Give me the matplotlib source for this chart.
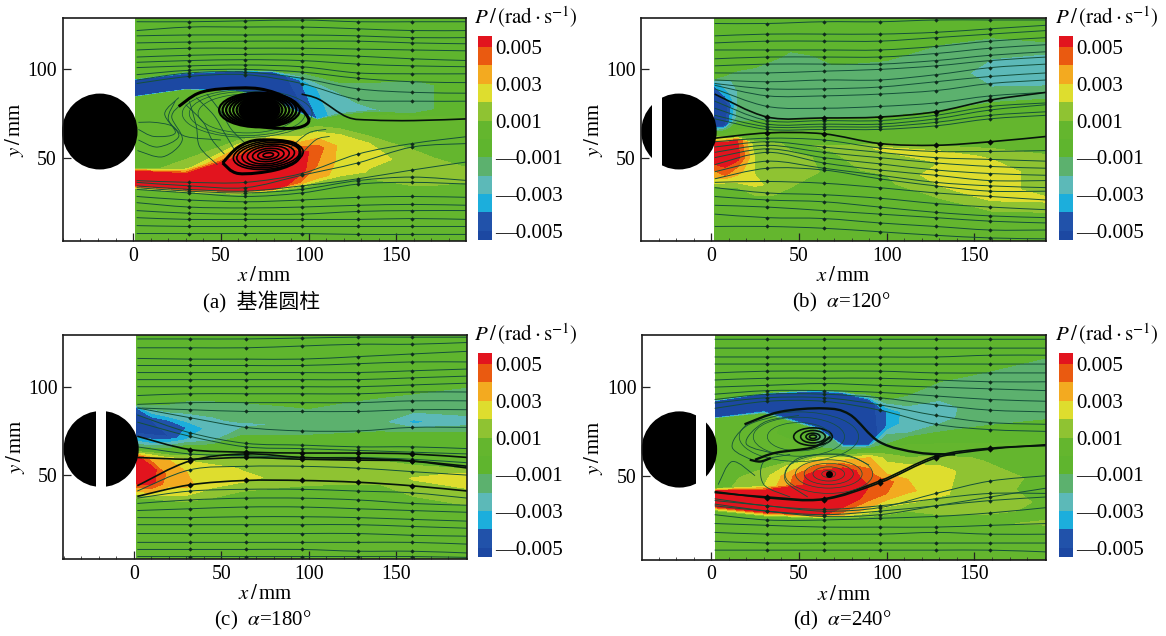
import matplotlib
matplotlib.use("Agg")
import matplotlib.pyplot as plt
from matplotlib.colors import ListedColormap, BoundaryNorm
from matplotlib.cm import ScalarMappable
from matplotlib.patches import Ellipse, Rectangle, PathPatch
from matplotlib.path import Path
from matplotlib.ticker import MultipleLocator
import numpy as np

W, H = 1166, 636
plt.rcParams['font.family'] = ['Liberation Serif', 'Noto Sans CJK SC']
plt.rcParams['mathtext.fontset'] = 'stix'

# colour scale, field values are in units of 0.001 rad/s
cbar_colors = ['#1c48a2', '#2152aa', '#1caedc', '#5cb9b8', '#5cb16e', '#5fb52e',
               '#64b62e', '#8fc332', '#dedd2e', '#f3aa20', '#ea5a10', '#e2141e']
cbar_edges = [-5.5, -5, -4, -3, -2, -1, 0, 1, 2, 3, 4, 5, 5.6]
field_edges = [-20, -5, -4, -3, -2, -1, 0, 1, 2, 3, 4, 5, 20]
cbar_ticks = [-5, -3, -1, 1, 3, 5]
cbar_labels = ['—0.005', '—0.003', '—0.001', '0.001', '0.003', '0.005']

# panel (a) field: rows run bottom to top across the x stations
a_x = [1.5, 30, 60, 80, 95, 105, 118, 135, 160, 191]
a_y = [[2, 2, 2, 2, 2, 2, 2, 2, 2, 2],
       [25, 24, 24, 24, 25, 27, 28, 29, 29, 29],
       [32, 30, 29, 31, 33, 35, 37, 38, 36, 32],
       [34.5, 32.6, 31.7, 32.5, 36, 39, 41, 42, 40, 36],
       [38, 37, 36, 38, 42, 46, 48, 50, 48, 44],
       [42, 40, 41, 46, 52, 55, 57, 58, 52, 46],
       [44, 44, 50, 56, 60, 63, 63, 62, 58, 52],
       [46, 50, 60, 64, 66, 68, 68, 68, 66, 62],
       [84, 88, 87, 82, 74, 71, 73, 75, 73, 72],
       [85, 89, 88, 84, 76, 72, 75, 77, 75, 73],
       [94, 97, 98.7, 98, 94, 89, 83, 80, 78, 76],
       [95, 99, 100, 99.5, 97, 94, 90, 90, 92, 90],
       [96, 100, 102, 102, 100, 98, 95, 95, 97, 97],
       [131, 131, 131, 131, 131, 131, 131, 131, 131, 131]]
a_v = [[0.5, 0.5, 0.5, 0.5, 0.5, 0.5, 0.5, 0.5, 0.5, 0.5],
       [0.5, 0.5, 0.5, 0.5, 0.5, 0.5, 0.5, 0.5, 0.5, 0.5],
       [0.5, 0.5, 0.5, 0.5, 1, 1, 1, 1, 1.2, 0.7],
       [6, 6, 6, 6, 4, 3.5, 2.5, 1.9, 1.7, 1],
       [6.5, 6.5, 6.5, 6.5, 5.5, 4, 2.7, 2.3, 1.7, 1],
       [6, 6, 6, 6, 5.5, 4.5, 2.7, 2, 1.3, 0.5],
       [0.5, 1.5, 5.5, 5.5, 2.5, 2.5, 2, 1, 0.5, 0.5],
       [0.9, 0.9, 0.9, 0.9, 0.9, 0.9, 0.5, 0.5, 0.5, 0.5],
       [0.9, 0.9, 0.9, 0, 0.5, 0, 0, -0.2, 0.3, 0.5],
       [-6, -6, -6, -6, -5.5, -4, -2, -2.5, -1, 0],
       [-6, -6, -6, -6, -4, -3, -2.5, -1.5, -1.3, -0.5],
       [-0.5, -0.5, -0.5, -0.5, -1.5, -1.5, -1.5, -1.5, -1.3, -0.5],
       [-0.5, -0.5, -0.5, -0.5, -0.5, -0.5, -0.5, -0.5, -0.5, -0.5],
       [-0.5, -0.5, -0.5, -0.5, -0.5, -0.5, -0.5, -0.5, -0.5, -0.5]]

# panel (b) field
b_x = [2.1, 8, 15, 25, 45, 70, 100, 130, 160, 192]
b_y = [[2, 2, 2, 2, 2, 2, 2, 2, 2, 2],
       [22, 22, 22, 22, 22, 20, 16, 14, 14, 14],
       [33, 33, 33, 30, 27, 27, 27, 27, 22, 22],
       [36, 37, 37, 35, 33, 33, 36, 30, 26, 26],
       [41, 41, 43, 42, 42, 42, 44, 38, 34, 30],
       [48, 48, 50, 50, 50, 50, 50, 47, 44, 40],
       [58, 58, 60, 58, 58, 56, 55, 53, 50, 50],
       [61, 61, 62, 62, 62, 61, 59, 58, 58, 60],
       [64, 66, 68, 68, 70, 71, 72, 75, 80, 82],
       [68, 68, 72, 72, 72, 73, 74, 77, 82, 84],
       [80, 80, 80, 80, 80, 80, 80, 85, 90, 92],
       [86, 86, 88, 88, 88, 88, 92, 95, 100, 100],
       [92, 92, 95, 96, 97, 97, 100, 106, 106, 106],
       [96, 98, 102, 104, 108, 108, 110, 114, 114, 114],
       [131, 131, 131, 131, 131, 131, 131, 131, 131, 131]]
b_v = [[0.1, 0.1, 0.1, 0.1, 0.1, 0.1, 0.1, 0.1, 0.1, 0.1],
       [0.5, 0.5, 0.5, 0.5, 0.5, 0.5, 0.5, 0.5, 0.5, 0.5],
       [0.5, 1, 1, 1.1, 0.9, 0.9, 0.7, 1, 1.2, 1.3],
       [2.5, 2.5, 2.5, 2.3, 1, 0.9, 0.9, 1.5, 2.1, 2.3],
       [3.5, 4.5, 3.5, 1.9, 1.2, 0.9, 1.1, 2.5, 2.5, 1.5],
       [5.5, 5.5, 5.5, 1.9, 1.1, 0.9, 1.5, 2, 2.5, 1.5],
       [5.5, 5.5, 5, 1.3, 0.9, 1.1, 2.3, 2.3, 1.9, 1.1],
       [1.5, 1.5, 0.5, 0.3, 0.3, 0.5, 0.5, 0.5, 0.5, 0.5],
       [-0.5, -1.5, -0.3, -0.2, -0.2, -0.2, -0.2, -0.2, -0.2, -0.2],
       [-5.5, -5, -1.5, -1.3, -1.4, -1.4, -1.5, -1.5, -1.5, -1.5],
       [-6, -6, -2, -1.5, -1.5, -1.7, -1.7, -1.7, -2, -2.1],
       [-5.5, -3.5, -2, -1.6, -1.5, -1.5, -1.5, -1.6, -2.3, -2.7],
       [-3.5, -2.5, -1.5, -1.5, -1.4, -1.1, -1.2, -1.4, -2, -2.5],
       [0, -0.5, -0.7, -0.7, -1.1, -0.9, -0.8, -1, -1.3, -1.1],
       [0, 0, 0, 0, 0, 0, 0, 0, 0, 0]]

# panel (c) field
c_x = [1.7, 10, 20, 30, 45, 62, 100, 140, 160, 192]
c_y = [[2, 2, 2, 2, 2, 2, 2, 2, 2, 2],
       [28, 28, 28, 28, 28, 28, 28, 28, 28, 28],
       [36, 36, 34, 34, 36, 40, 40, 40, 34, 34],
       [40, 40, 39, 39, 42, 44, 46, 46, 42, 40],
       [46, 46, 44, 44, 47, 48, 50, 50, 48, 46],
       [54, 54, 50, 52, 53, 54, 54, 54, 53, 50],
       [60, 60, 58, 60, 60, 58, 58, 58, 55, 53],
       [64, 64, 63, 63, 63, 62, 62, 62, 60, 58],
       [70, 68, 65, 66, 66, 68, 70, 72, 72, 72],
       [75, 74, 72, 70, 70, 74, 74, 76, 76, 76],
       [84, 81, 80, 77, 76, 78, 80, 80, 80, 80],
       [88, 86, 84, 82, 80, 82, 82, 86, 86, 86],
       [90, 90, 89, 88, 88, 88, 90, 92, 92, 95],
       [96, 96, 96, 96, 96, 96, 96, 98, 100, 104],
       [131, 131, 131, 131, 131, 131, 131, 131, 131, 131]]
c_v = [[0.2, 0.2, 0.2, 0.2, 0.2, 0.2, 0.2, 0.2, 0.2, 0.2],
       [0.5, 0.5, 0.5, 0.5, 0.5, 0.5, 0.5, 0.5, 0.5, 0.5],
       [0.5, 0.5, 0.5, 0.7, 0.8, 0.8, 0.5, 0.5, 0.7, 1.1],
       [2.5, 3, 2.1, 2.1, 1.9, 1.7, 1.2, 1.1, 1.3, 1.7],
       [5.5, 5.5, 3.1, 3.2, 2.5, 2.3, 1.3, 1.3, 2.1, 2.5],
       [6, 5.5, 3.7, 3, 2.5, 1.9, 1.3, 1.3, 1.3, 2.3],
       [5.5, 3.1, 3.1, 1.7, 1.3, 1.3, 1.1, 1.1, 1.1, 1.1],
       [0, 0, 0, 0, 0, 0.1, 0.1, 0.1, 0.1, 0.1],
       [-3.5, -3, -1, -0.5, -0.5, -0.1, -0.1, -0.2, -0.2, -0.2],
       [-5.5, -5.5, -5, -3, -2.3, -1.3, -1.5, -1.5, -1.7, -1.7],
       [-5.5, -5, -4.5, -4, -2.5, -2.3, -1.7, -1.7, -3.3, -2.3],
       [-4, -2.5, -2.5, -2.5, -2.3, -1.6, -1.5, -1.6, -1.9, -1.8],
       [-0.7, -1, -1.1, -1.5, -1.5, -1.3, -0.8, -1.2, -1.5, -1.6],
       [-0.5, -0.5, -0.5, -0.5, -0.5, -0.5, -0.5, -0.5, -0.5, -0.5],
       [-0.5, -0.5, -0.5, -0.5, -0.5, -0.5, -0.5, -0.5, -0.5, -0.5]]

# panel (d) field
d_x = [2.5, 30, 60, 75, 90, 100, 112, 130, 155, 192]
d_y = [[2, 2, 2, 2, 2, 2, 2, 2, 2, 2],
       [18, 18, 20, 20, 20, 20, 22, 22, 22, 22],
       [30, 27, 26, 26, 27, 28, 30, 28, 24, 22],
       [33, 30, 28.5, 28, 30, 33, 35, 34, 32, 28],
       [37, 35, 34, 35, 38, 40, 42, 40, 38, 34],
       [41, 41, 40, 42, 44, 46, 48, 46, 44, 40],
       [43, 44, 45, 46, 50, 50, 53, 54, 50, 48],
       [48, 50, 50, 52, 54, 54, 57, 60, 60, 60],
       [50, 54, 57, 58, 60, 60, 62, 64, 64, 64],
       [62, 62, 62, 62, 64, 65, 66, 68, 68, 68],
       [76, 76, 66, 64.5, 66, 68, 70, 74, 76, 76],
       [82, 84, 76, 66.5, 67, 72, 74, 76, 78, 80],
       [83, 87, 78, 68, 68, 78, 80, 82, 84, 86],
       [92, 96, 97, 96, 92, 86, 86, 88, 90, 96],
       [93, 97, 99, 98, 95, 91, 93, 100, 105, 113],
       [94, 98, 100, 100, 97, 94, 98, 106, 112, 120],
       [131, 131, 131, 131, 131, 131, 131, 131, 131, 131]]
d_v = [[0.2, 0.2, 0.2, 0.2, 0.2, 0.2, 0.2, 0.2, 0.2, 0.2],
       [0.5, 0.5, 0.5, 0.5, 0.5, 0.5, 0.5, 0.5, 0.5, 0.7],
       [0.5, 0.5, 0.7, 0.7, 1, 1, 1, 1, 0.9, 1.1],
       [6, 6, 6, 3.5, 2.5, 2.1, 2.1, 1.5, 1.1, 0.9],
       [6.5, 6.5, 6.5, 6, 4.5, 4, 3.3, 2.2, 1.3, 0.9],
       [6, 6, 6.5, 6, 5, 4.5, 3, 2.3, 1.3, 0.7],
       [0.5, 2, 6, 6, 4.5, 3.1, 2.5, 2.3, 1.5, 0.7],
       [0.5, 1.5, 6, 6, 4, 2.5, 1.9, 1.3, 0.9, 0.5],
       [0.5, 1, 3.5, 3.5, 3.1, 1.7, 0.5, 0.3, 0.2, 0.2],
       [0.8, 0.8, 1, 0.7, 0.1, 0.1, 0.1, 0, 0, 0],
       [0, 0.3, -1, -1.1, -1.5, -1.1, -0.2, -0.7, -0.8, -0.5],
       [0, 0.5, -1.1, -2.5, -3.5, -1.5, -2, -1.7, -1, -0.8],
       [-6, -6, -6, -6, -6, -4, -2.3, -2.3, -1.5, -1.5],
       [-6, -6, -6, -6, -5.5, -4, -2.5, -2.3, -1.6, -1.6],
       [-0.5, -0.5, -0.5, -0.5, -1.5, -2, -1.5, -1.5, -1.4, -1.6],
       [-0.5, -0.5, -0.5, -0.5, -0.5, -0.5, -0.5, -0.5, -0.5, -0.5],
       [-0.5, -0.5, -0.5, -0.5, -0.5, -0.5, -0.5, -0.5, -0.5, -0.5]]

# streamlines: y in mm at these x stations
line_x = [2, 32, 64, 96, 128, 159, 191]
a_lines = [[127, 127, 127.5, 128, 127, 127, 127], [122, 124, 124, 124, 123, 122, 122],
           [119, 119.5, 119.5, 119.5, 119, 118, 118], [115, 115.5, 116, 116, 116, 115, 114.5],
           [111, 112, 112, 112, 111.5, 111, 110.5], [107, 108, 108.5, 108.5, 107.5, 106, 105],
           [104, 105, 105.5, 105, 103, 102, 101.5], [101, 102, 102.5, 101.5, 98, 97.5, 97.5],
           [97, 99.5, 100, 98.5, 95, 93, 92.5], [94, 98, 98.5, 95, 89, 87, 86.5],
           [92, 96, 97, 92, 83, 82, 82], [32, 30, 28, 30, 35, 36, 35],
           [28, 26, 25, 26, 27.5, 28, 27.5], [24.5, 22, 21.5, 22, 23, 23.5, 23],
           [20, 18.5, 18, 18, 19.5, 20, 20], [16, 15, 15, 15, 15, 15.5, 15],
           [11.5, 11, 11, 11, 11, 11, 11], [7, 7, 7, 7, 6.5, 6.5, 6.5],
           [37, 36, 36, 41, 52, 58, 62], [36, 34, 33, 40, 47, 56, 58],
           [34, 32, 31, 34, 38, 43, 47.7], [33, 31, 30, 32, 37, 39, 37]]
a_heavy = []
b_lines = [[126, 126, 127, 127, 128, 128, 128], [119, 120, 120, 120, 121, 123, 125],
           [115, 116, 116, 116, 118, 120, 122], [111, 111, 111, 111, 113, 116, 118],
           [106, 107, 107, 107, 109, 112, 114], [102, 103, 103, 103, 105, 108, 110],
           [98, 98, 99, 100, 102, 105, 107], [94, 93, 94, 94, 97, 101, 103],
           [92, 89, 89, 90, 93, 96, 98], [91, 85, 85, 86, 88, 92, 94],
           [89, 79, 78, 79, 81, 85, 87], [82, 71, 71, 71, 74, 79, 81],
           [78, 69, 69, 69, 72, 77, 80], [74, 67.5, 67.5, 67.5, 70, 74, 76],
           [72, 66, 66, 66, 68, 72, 74], [59, 61, 60, 55.5, 53.5, 53.5, 54],
           [56, 59, 56, 53, 50, 49, 48], [53, 57, 53, 50, 47, 45, 44],
           [50, 55, 50, 46.5, 43, 41, 40], [46, 53, 47, 43, 40, 37, 37],
           [42, 48, 44, 40, 36, 34, 33], [38, 44, 43, 38, 34, 31, 31],
           [36, 36.5, 35.5, 33, 30, 28, 26], [33, 30, 29, 27, 24, 22, 20.5],
           [28, 26, 25, 22, 19, 17, 16], [23, 22, 20, 18, 16, 14, 13],
           [18, 16, 15.5, 13, 11, 9, 9], [11, 11, 10, 8, 6, 4.5, 4]]
b_heavy = [[86, 73, 72.5, 73, 76, 82.6, 87], [61, 64, 63.5, 58, 57, 59, 62]]
c_lines = [[127, 127, 127, 127.5, 128, 128, 128], [122, 122, 122, 123, 124, 124, 125],
           [116, 115.6, 115.6, 115.6, 117, 118.5, 120],
           [112, 112, 112, 112, 113, 114, 114], [108, 108, 108, 108, 108, 109, 110],
           [104, 104, 104, 104, 104, 105, 106], [100, 100, 100, 100, 100, 101, 102],
           [95, 96, 96, 96, 96, 97, 97], [90, 91, 91, 91, 91, 92, 92],
           [88, 87, 86, 86, 86, 87, 87], [88, 82.5, 77, 75, 75, 77, 77],
           [84, 74, 68, 67, 66, 66, 65],
           [80, 72, 66, 65, 64, 63, 62], [66, 62, 61, 60, 60, 59, 57],
           [41, 53, 55, 55, 54, 52, 50], [37, 41, 42, 42, 41, 40, 37],
           [34, 36, 37, 37, 36, 34, 33], [30, 31, 32, 32, 31, 30, 29],
           [26, 26, 26.5, 26.5, 26, 25, 24], [22, 22, 22, 22, 22, 21, 20],
           [17, 17, 17, 17, 17, 16, 15.5], [12, 12, 12, 12, 12, 12, 11],
           [8, 8, 8, 8, 7, 7, 6], [4, 4, 4, 4, 4, 4, 3.5]]
c_heavy = [[72, 64.5, 63, 62.5, 62.5, 62, 60], [60, 59, 60, 59, 58.5, 58, 55],
           [44, 58, 62, 60, 59.5, 58, 54], [38, 44.5, 47, 47, 46, 44, 41]]
d_lines = [[127, 127, 127, 127, 127, 127, 127], [122, 122, 122, 122, 122, 122, 122],
           [117, 117, 117, 117, 117, 118, 118], [113, 113, 113, 113, 113, 113, 113],
           [108, 109, 109, 109, 108, 108, 108], [104, 105, 105, 105, 104, 103, 103],
           [100, 101, 102, 101, 100, 99, 98], [96, 98, 98, 97, 95, 93, 92],
           [93, 96, 96, 94, 90, 87, 86], [91, 94, 94, 90, 84, 80, 79],
           [88, 92, 92, 87, 79, 76, 75], [37, 33, 31, 33, 37, 40, 40],
           [34, 30, 27, 28, 33, 38, 43], [36, 33, 30, 32, 40, 47, 50],
           [33, 30, 28, 30, 33, 36, 38], [28, 25, 25, 26, 27, 29, 32],
           [23, 22, 21, 21, 21, 22, 23], [18, 17, 17, 17, 18, 17, 17],
           [13, 12, 12, 12, 12, 12, 12], [8, 8, 8, 8, 8, 8, 7]]
d_heavy = [[41, 37.5, 36.5, 46, 60, 65, 67.5], [40.5, 38, 37, 47, 61, 65.5, 67]]

# free curves around the wake, (x, y) in mm
a_loops = [[(26, 79), (37, 86.4), (51, 89), (72, 89), (89, 83), (100, 72), (94, 67), (77, 67), (60, 70)],
           [(51, 47), (60, 56), (72, 60), (92, 58), (94, 49), (81, 43), (60, 41), (51, 47)]]
a_exit = [(96, 86), (106, 83), (122, 73), (136, 71.3), (160, 71), (191, 72)]
a_thin = [[(2.5, 54), (17, 50.5), (28, 60), (22, 73), (27, 80)],
          [(3, 60), (14, 56), (26, 62), (20, 72), (24, 82)],
          [(3, 66), (12, 62), (24, 64), (18, 75), (26, 84)],
          [(3, 70), (12, 70), (22, 68), (30, 62), (50, 60)],
          [(30, 80), (40, 70), (45, 60), (52, 52)],
          [(36, 84), (46, 74), (52, 64), (58, 54)],
          [(42, 86), (50, 76), (56, 66), (64, 58)],
          [(32, 82), (36, 68), (38, 56), (48, 46)],
          [(94, 50), (104, 60), (112, 62)], [(90, 56), (100, 64), (110, 66)]]
a_vortex_up = (72, 77)
a_vortex_up_rx = [11, 13, 15, 17, 19, 21, 23]
a_vortex_up_ry = [6.5, 7, 7.6, 8, 8.6, 9.2, 9.8]
a_vortex_low = (77, 51.5)
a_vortex_low_rx = [3, 6, 9, 12, 15, 18, 20]
a_vortex_low_ry = [1.2, 2.5, 3.7, 5, 6, 7, 8]
d_loops = [[(19, 79), (39, 86), (64, 88), (79, 84.5), (96, 69), (118, 63), (139, 62)],
           [(25, 59), (37, 63), (58, 66), (68, 72)],
           [(22, 59), (28, 58), (34, 60)]]
d_thin = [[(25, 58), (12, 66), (20, 78), (38, 84)], [(38, 62), (20, 68), (30, 80), (50, 84)],
          [(25, 50), (12, 58), (4, 45)], [(45, 38), (30, 45), (30, 58), (45, 62)],
          [(55, 38), (42, 48), (50, 60), (75, 62), (90, 56)]]
d_vortex_up = (58, 72)
d_vortex_up_rx = [2, 4, 7, 11]
d_vortex_up_ry = [1, 2, 3.5, 5]
d_vortex_thin_rx = [18, 26, 34]
d_vortex_thin_ry = [8, 11, 14]
d_vortex_low = (67, 51)
d_vortex_low_rx = [4, 9, 14, 19, 25]
d_vortex_low_ry = [2, 4, 6, 8, 11]

captions = ['(a)  基准圆柱', r'(b)  $\alpha$=120°', r'(c)  $\alpha$=180°', r'(d)  $\alpha$=240°']
# left, right, top, bottom in pixels
panel_box = [(62.5, 465.5, 17.5, 241.3), (641.4, 1045.5, 17.5, 241.3),
             (63.2, 467, 334.7, 559), (642, 1045.9, 335, 559.7)]
panel_xlim = [(-40.25, 189.4), (-39.8, 190.5), (-40.4, 190.6), (-39.4, 190.7)]
cbar_box = [(477.8, 491.5, 36, 240), (1059.3, 1073, 36, 240),
            (477.8, 491.5, 353, 557), (1059.3, 1073, 353, 557)]
cyl_x = [-19, -18.4, -18.7, -18.1]
cyl_r = 21.5
cyl_y = 64.8
slots = [None, (-33.7, -28.2), (-21.9, -16), (-8.5, -2.8)]


def box_axes(fig, box):
    l, r, t, b = box
    return fig.add_axes([l/W, 1-b/H, (r-l)/W, (b-t)/H])


def smooth(ax, pts, **kw):
    # catmull-rom through the read points, drawn as a bezier path
    p = [np.array(q, dtype=float) for q in pts]
    verts = [p[0]]
    codes = [Path.MOVETO]
    for i in range(len(p)-1):
        p0 = p[max(i-1, 0)]
        p3 = p[min(i+2, len(p)-1)]
        verts += [p[i]+(p[i+1]-p0)/6, p[i+1]-(p3-p[i])/6, p[i+1]]
        codes += [Path.CURVE4]*3
    ax.add_patch(PathPatch(Path(verts, codes), fill=False, **kw))


def draw_lines(ax, lines, heavy):
    for ys in lines:
        smooth(ax, list(zip(line_x, ys)), ec='#14503a', lw=0.7, zorder=3)
        ax.plot(line_x[1:-1], ys[1:-1], 'D', ms=2.2, color='#0f2c1c', mew=0, zorder=4)
    for ys in heavy:
        smooth(ax, list(zip(line_x, ys)), ec='#06140c', lw=1.2, zorder=3)
        ax.plot(line_x[1:-1], ys[1:-1], 'D', ms=3.2, color='#050a07', mew=0, zorder=4)


def draw_rings(ax, center, rx, ry, angle=0, lw=1.0, color='black', alpha=1.0):
    for w, h in zip(rx, ry):
        ax.add_patch(Ellipse(center, 2*w, 2*h, angle=angle, fill=False, ec=color,
                             lw=lw, alpha=alpha, zorder=3))


fig = plt.figure(figsize=(W/100, H/100), dpi=100)
fields = [(a_x, a_y, a_v), (b_x, b_y, b_v), (c_x, c_y, c_v), (d_x, d_y, d_v)]
line_sets = [(a_lines, a_heavy), (b_lines, b_heavy), (c_lines, c_heavy), (d_lines, d_heavy)]

for i in range(4):
    ax = box_axes(fig, panel_box[i])
    xs, ys, vs = fields[i]
    ys = np.array(ys, dtype=float)
    X = np.tile(xs, (ys.shape[0], 1))
    ax.contourf(X, ys, np.array(vs, dtype=float), levels=field_edges, colors=cbar_colors, zorder=1)
    draw_lines(ax, *line_sets[i])

    ax.add_patch(Ellipse((cyl_x[i], cyl_y), 2*cyl_r, 2*cyl_r, fc='black', ec='none',
                         clip_on=False, zorder=5))
    if slots[i]:
        ax.add_patch(Rectangle((slots[i][0], cyl_y-cyl_r-1), slots[i][1]-slots[i][0], 2*cyl_r+2,
                               fc='white', ec='none', zorder=6))

    ax.set_xlim(*panel_xlim[i])
    ax.set_ylim(2.6, 129.4)
    ax.set_xticks([0, 50, 100, 150])
    ax.set_yticks([50, 100])
    ax.xaxis.set_minor_locator(MultipleLocator(10))
    ax.tick_params(axis='both', which='major', direction='in', length=6, width=0.9,
                   labelsize=14.3, pad=4, color='#222222', zorder=8)
    ax.tick_params(axis='x', which='minor', direction='in', length=2.2, width=0.6, color='#333333')
    for s in ax.spines.values():
        s.set_linewidth(1.2)
        s.set_color('#1a1a1a')
        s.set_zorder(9)
    ax.set_xlabel(r'$x\,/\,$mm', fontsize=15, labelpad=1)
    ax.set_ylabel(r'$y\,/\,$mm', fontsize=15, labelpad=1)

    if i == 0:
        for pts in a_thin:
            smooth(ax, pts, ec='#14503a', lw=0.6, zorder=3)
        draw_rings(ax, (65, 75), [28, 33, 37], [11, 12.5, 13.5], lw=0.5, color='#14503a')
        ax.add_patch(Ellipse(a_vortex_up, 24, 15, fc='black', ec='none', zorder=3))
        draw_rings(ax, a_vortex_up, a_vortex_up_rx, a_vortex_up_ry, lw=1.6)
        draw_rings(ax, a_vortex_low, a_vortex_low_rx, a_vortex_low_ry, angle=6, lw=1.2)
        for pts in a_loops:
            smooth(ax, pts, ec='black', lw=2.2, zorder=4)
        smooth(ax, a_exit, ec='#06140c', lw=1.2, zorder=4)
    if i == 3:
        for pts in d_thin:
            smooth(ax, pts, ec='#14503a', lw=0.6, zorder=3)
        draw_rings(ax, d_vortex_up, d_vortex_up_rx, d_vortex_up_ry, lw=1.2, color='#06140c')
        draw_rings(ax, (50, 72), d_vortex_thin_rx, d_vortex_thin_ry, lw=0.5, color='#14503a')
        draw_rings(ax, d_vortex_low, d_vortex_low_rx, d_vortex_low_ry, lw=0.5, color='#14503a')
        ax.plot([67], [51], 'o', ms=5, color='black', mew=0, zorder=4)
        for pts in d_loops:
            smooth(ax, pts, ec='#06140c', lw=1.7, zorder=4)

    l, r, t, b = panel_box[i]
    fig.text(((l+r)/2-2)/W, 1-(b+61)/H, captions[i], fontsize=15, ha='center', va='center')

    # colour bar
    cax = box_axes(fig, cbar_box[i])
    sm = ScalarMappable(norm=BoundaryNorm(cbar_edges, len(cbar_colors)),
                        cmap=ListedColormap(cbar_colors))
    cb = fig.colorbar(sm, cax=cax, spacing='proportional', ticks=cbar_ticks)
    cb.ax.set_yticklabels(cbar_labels)
    cb.ax.tick_params(length=0, labelsize=15, pad=2.5)
    cb.ax.minorticks_off()
    cb.outline.set_visible(False)
    fig.text((cbar_box[i][0]-4)/W, 1-(cbar_box[i][2]-19)/H,
             r'$P\,/\,(\mathrm{rad}\cdot\mathrm{s}^{-1})$', fontsize=15, ha='left', va='center')

fig.savefig('out.png', dpi=100)
